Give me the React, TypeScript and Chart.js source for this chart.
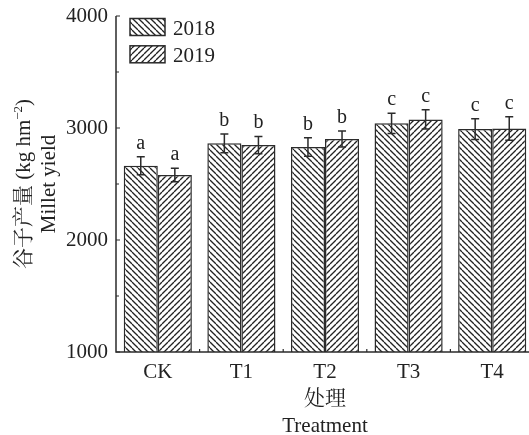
import React, { useEffect, useRef } from "react";
import { Chart, registerables } from "chart.js";

Chart.register(...registerables);

const categories = ["CK", "T1", "T2", "T3", "T4"];
const seriesLabels = ["2018", "2019"];
const yield2018 = [2663, 2863, 2830, 3042, 2990];
const yield2019 = [2580, 2848, 2902, 3077, 2995];
const err2018 = [80, 83, 82, 90, 92];
const err2019 = [60, 77, 72, 85, 105];
const letters2018 = ["a", "b", "b", "c", "c"];
const letters2019 = ["a", "b", "b", "c", "c"];
const majorTicks = [1000, 2000, 3000, 4000];
const minorTicks = [1500, 2500, 3500];

const FONT = '"Liberation Serif", "Noto Serif CJK SC", "Noto Sans CJK SC", serif';
const INK = "#2b2b2b";

function makePattern(dir: "back" | "fwd"): CanvasPattern | string {
  const s = 6;
  const c = document.createElement("canvas");
  c.width = s;
  c.height = s;
  const g = c.getContext("2d");
  if (!g) return "#fff";
  g.fillStyle = "#fff";
  g.fillRect(0, 0, s, s);
  g.strokeStyle = "#222";
  g.lineWidth = 1.3;
  for (const o of [-s, 0, s]) {
    g.beginPath();
    if (dir === "back") {
      g.moveTo(o, 0);
      g.lineTo(o + s, s);
    } else {
      g.moveTo(o, s);
      g.lineTo(o + s, 0);
    }
    g.stroke();
  }
  const p = g.createPattern(c, "repeat");
  return p || "#fff";
}

export default function App() {
  const ref = useRef<HTMLCanvasElement | null>(null);

  useEffect(() => {
    document.body.style.margin = "0";
    document.body.style.overflow = "hidden";
    const canvas = ref.current;
    if (!canvas) return;
    const pat2018 = makePattern("back");
    const pat2019 = makePattern("fwd");
    const errs = [err2018, err2019];
    const letters = [letters2018, letters2019];

    const overlay = {
      id: "overlay",
      afterDatasetsDraw(chart: any) {
        const ctx = chart.ctx;
        const y = chart.scales.y;
        const x = chart.scales.x;
        const area = chart.chartArea;
        ctx.save();
        // error bars & letters
        chart.data.datasets.forEach((ds: any, di: number) => {
          const meta = chart.getDatasetMeta(di);
          meta.data.forEach((bar: any, i: number) => {
            const v = ds.data[i];
            const e = errs[di][i];
            const yt = y.getPixelForValue(v + e);
            const yb = y.getPixelForValue(v - e);
            const cx = bar.x;
            ctx.strokeStyle = INK;
            ctx.lineWidth = 1.5;
            ctx.beginPath();
            ctx.moveTo(cx, yt);
            ctx.lineTo(cx, yb);
            ctx.moveTo(cx - 4, yt);
            ctx.lineTo(cx + 4, yt);
            ctx.moveTo(cx - 4, yb);
            ctx.lineTo(cx + 4, yb);
            ctx.stroke();
            ctx.fillStyle = "#222";
            ctx.font = "20px " + FONT;
            ctx.textAlign = "center";
            ctx.textBaseline = "alphabetic";
            ctx.fillText(letters[di][i], cx, yt - 8);
          });
        });
        // axes
        ctx.strokeStyle = INK;
        ctx.lineWidth = 1.5;
        ctx.beginPath();
        ctx.moveTo(area.left, area.top);
        ctx.lineTo(area.left, area.bottom);
        ctx.lineTo(area.right, area.bottom);
        ctx.stroke();
        ctx.lineWidth = 1.2;
        ctx.beginPath();
        majorTicks.forEach((t) => {
          const py = y.getPixelForValue(t);
          ctx.moveTo(area.left, py);
          ctx.lineTo(area.left + 4, py);
        });
        minorTicks.forEach((t) => {
          const py = y.getPixelForValue(t);
          ctx.moveTo(area.left, py);
          ctx.lineTo(area.left + 3, py);
        });
        for (let i = 1; i < categories.length; i++) {
          const px = (x.getPixelForValue(i - 1) + x.getPixelForValue(i)) / 2;
          ctx.moveTo(px, area.bottom);
          ctx.lineTo(px, area.bottom - 3);
        }
        ctx.stroke();
        // legend
        const pats = [pat2018, pat2019];
        seriesLabels.forEach((lab, i) => {
          const bx = 130;
          const by = 18.5 + i * 27.3;
          ctx.fillStyle = pats[i];
          ctx.fillRect(bx, by, 35, 17);
          ctx.strokeStyle = INK;
          ctx.lineWidth = 1.5;
          ctx.strokeRect(bx, by, 35, 17);
          ctx.fillStyle = "#222";
          ctx.font = "21px " + FONT;
          ctx.textAlign = "left";
          ctx.textBaseline = "alphabetic";
          ctx.fillText(lab, 173, by + 16);
        });
        // y title
        const cy = (area.top + area.bottom) / 2;
        ctx.save();
        ctx.translate(30, cy);
        ctx.rotate(-Math.PI / 2);
        ctx.fillStyle = "#222";
        ctx.textBaseline = "alphabetic";
        const big = "21px " + FONT;
        const small = "13px " + FONT;
        const p1 = "谷子产量 (kg hm";
        const p2 = "\u22122";
        const p3 = ")";
        ctx.font = big;
        const w1 = ctx.measureText(p1).width;
        const w3 = ctx.measureText(p3).width;
        ctx.font = small;
        const w2 = ctx.measureText(p2).width;
        const total = w1 + w2 + w3;
        let sx = -total / 2;
        ctx.textAlign = "left";
        ctx.font = big;
        ctx.fillText(p1, sx, 0);
        sx += w1;
        ctx.font = small;
        ctx.fillText(p2, sx, -8);
        sx += w2;
        ctx.font = big;
        ctx.fillText(p3, sx, 0);
        ctx.restore();
        ctx.save();
        ctx.translate(55, cy);
        ctx.rotate(-Math.PI / 2);
        ctx.fillStyle = "#222";
        ctx.font = big;
        ctx.textAlign = "center";
        ctx.textBaseline = "alphabetic";
        ctx.fillText("Millet yield", 0, 0);
        ctx.restore();
        // x title
        const mx = (area.left + area.right) / 2;
        ctx.fillStyle = "#222";
        ctx.font = big;
        ctx.textAlign = "center";
        ctx.textBaseline = "alphabetic";
        ctx.fillText("处理", mx, 405);
        ctx.fillText("Treatment", mx, 432);
        ctx.restore();
      },
    };

    const chart = new Chart(canvas, {
      type: "bar",
      data: {
        labels: categories,
        datasets: [
          {
            label: seriesLabels[0],
            data: yield2018,
            backgroundColor: pat2018 as any,
            borderColor: INK,
            borderWidth: 1.5,
            borderSkipped: false,
          },
          {
            label: seriesLabels[1],
            data: yield2019,
            backgroundColor: pat2019 as any,
            borderColor: INK,
            borderWidth: 1.5,
            borderSkipped: false,
          },
        ],
      },
      options: {
        responsive: false,
        animation: false,
        devicePixelRatio: 1,
        layout: { padding: { top: 16, right: 0, left: 0, bottom: 0 } },
        plugins: { legend: { display: false }, tooltip: { enabled: false } },
        datasets: { bar: { barPercentage: 1, categoryPercentage: 0.815 } },
        scales: {
          x: {
            grid: { display: false },
            border: { display: false },
            ticks: { color: "#222", font: { family: FONT, size: 21 }, padding: 0 },
            afterFit: (s: any) => {
              s.height = 435 - 16 - 336;
            },
          },
          y: {
            min: 1000,
            max: 4000,
            grid: { display: false },
            border: { display: false },
            ticks: {
              stepSize: 1000,
              color: "#222",
              font: { family: FONT, size: 21 },
              padding: 0,
              callback: (v: any) => String(v),
            },
            afterFit: (s: any) => {
              s.width = 116;
            },
          },
        },
      },
      plugins: [overlay],
    });
    return () => chart.destroy();
  }, []);

  return <canvas ref={ref} width={534} height={435} style={{ display: "block" }} />;
}
